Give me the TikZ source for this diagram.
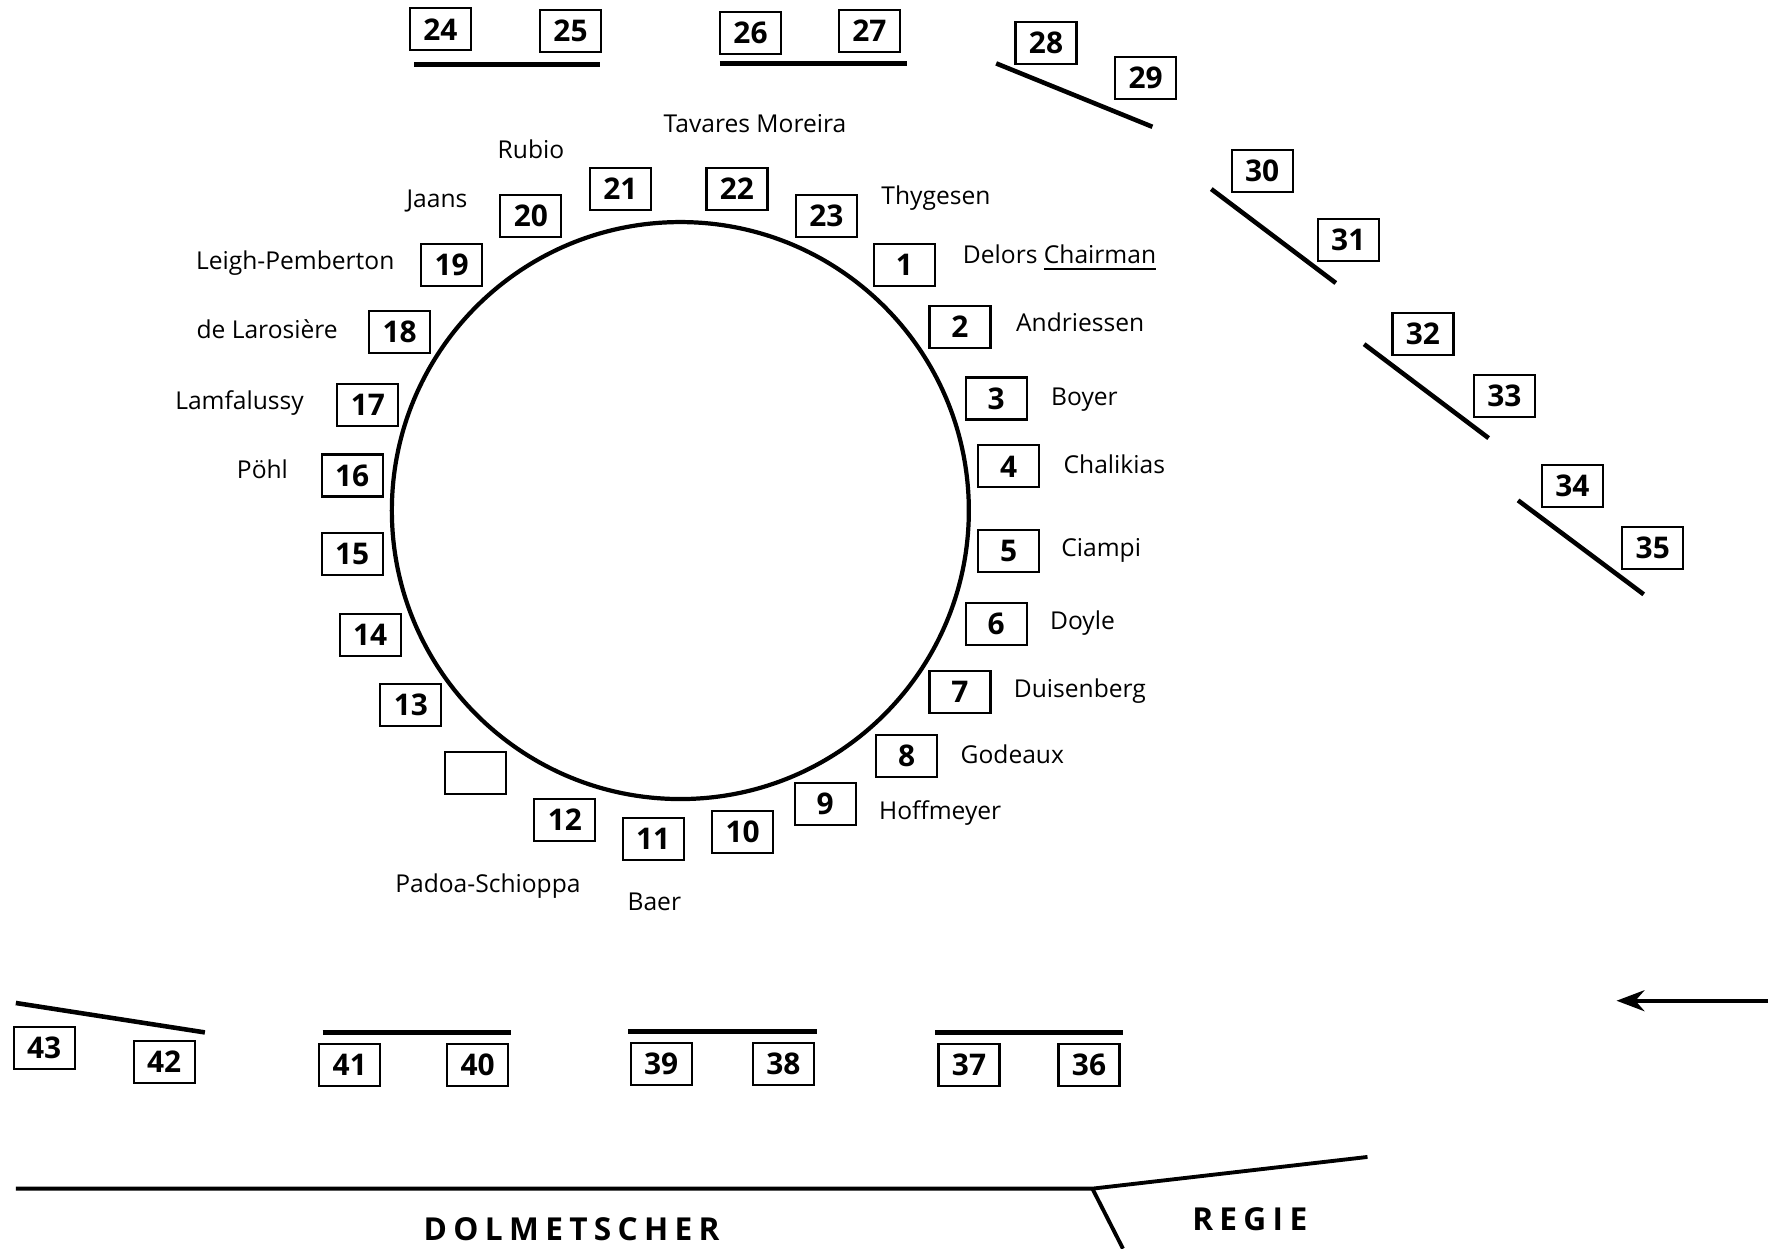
\documentclass[tikz,border=0pt]{standalone}
\usepackage{fontspec}
\setmainfont{Open Sans}
\usetikzlibrary{arrows.meta}

\tikzset{
  seat/.style={draw, line width=0.6pt, minimum width=6.1mm, minimum height=4.2mm,
    inner sep=0pt, font=\fontsize{8.5}{9}\selectfont\bfseries},
  member/.style={inner sep=0pt, font=\fontsize{7}{8}\selectfont},
  bench/.style={line width=1.3pt},
  wall/.style={line width=1.1pt},
  room/.style={inner sep=0pt, font=\fontsize{9}{9}\selectfont\bfseries\addfontfeatures{LetterSpace=20}},
}

\begin{document}
\begin{tikzpicture}[x=0.1132mm, y=-0.1132mm, >=Stealth]
  \useasboundingbox (0,0) rectangle (1568,1103);
  % the round table
  \node[draw, circle, line width=1.2pt, minimum size=57.7mm, inner sep=0pt] (table) at (601,451) {};

  % seats round the table
  \node[seat] (s1) at (799,234) {1};
  \node[seat] (s2) at (848,289) {2};
  \node[seat] (s3) at (880,352) {3};
  \node[seat] (s4) at (891,412) {4};
  \node[seat] (s5) at (891,487) {5};
  \node[seat] (s6) at (880,551) {6};
  \node[seat] (s7) at (848,611) {7};
  \node[seat] (s8) at (801,668) {8};
  \node[seat] (s9) at (729,710) {9};
  \node[seat] (s10) at (656,735) {10};
  \node[seat] (s11) at (577,741) {11};
  \node[seat] (s12) at (499,724) {12};
  \node[seat] (sx) at (420,683) {};
  \node[seat] (s13) at (363,623) {13};
  \node[seat] (s14) at (327,561) {14};
  \node[seat] (s15) at (311,489) {15};
  \node[seat] (s16) at (311,420) {16};
  \node[seat] (s17) at (325,358) {17};
  \node[seat] (s18) at (353,293) {18};
  \node[seat] (s19) at (399,234) {19};
  \node[seat] (s20) at (469,191) {20};
  \node[seat] (s21) at (548,167) {21};
  \node[seat] (s22) at (651,167) {22};
  \node[seat] (s23) at (730,191) {23};

  % names, right side
  \node[member, anchor=base west] (thygesen) at (778,181) {Thygesen};
  \node[member, anchor=base west] (delors) at (850,233) {Delors \underline{Chairman}};
  \node[member, anchor=base west] (andriessen) at (897,293) {Andriessen};
  \node[member, anchor=base west] (boyer) at (928,358) {Boyer};
  \node[member, anchor=base west] (chalikias) at (939,418) {Chalikias};
  \node[member, anchor=base west] (ciampi) at (937,492) {Ciampi};
  \node[member, anchor=base west] (doyle) at (927,556) {Doyle};
  \node[member, anchor=base west] (duisenberg) at (895,616) {Duisenberg};
  \node[member, anchor=base west] (godeaux) at (848,674) {Godeaux};
  \node[member, anchor=base west] (hoffmeyer) at (776,724) {Hoffmeyer};
  % names, bottom
  \node[member, anchor=base] (baer) at (578,804) {Baer};
  \node[member, anchor=base] (padoa) at (431,788) {Padoa-Schioppa};
  % names, left side
  \node[member, anchor=base east] (poehl) at (255,423) {Pöhl};
  \node[member, anchor=base east] (lamfalussy) at (269,362) {Lamfalussy};
  \node[member, anchor=base east] (larosiere) at (299,299) {de Larosière};
  \node[member, anchor=base east] (leigh) at (349,238) {Leigh-Pemberton};
  \node[member, anchor=base] (jaans) at (386,183) {Jaans};
  \node[member, anchor=base] (rubio) at (469,140) {Rubio};
  \node[member, anchor=base] (tavares) at (667,117) {Tavares Moreira};

  % top rows
  \node[seat] (s24) at (389,26) {24};
  \node[seat] (s25) at (504,27) {25};
  \draw[bench] (366,57) -- (530,57);
  \node[seat] (s26) at (663,29) {26};
  \node[seat] (s27) at (768,27) {27};
  \draw[bench] (636,56) -- (801,56);
  \node[seat] (s28) at (924,38) {28};
  \node[seat] (s29) at (1012,69) {29};
  \draw[bench] (880,56) -- (1018,112);
  % right rows
  \node[seat] (s30) at (1115,151) {30};
  \node[seat] (s31) at (1191,212) {31};
  \draw[bench] (1070,167) -- (1180,250);
  \node[seat] (s32) at (1257,295) {32};
  \node[seat] (s33) at (1329,350) {33};
  \draw[bench] (1205,304) -- (1315,387);
  \node[seat] (s34) at (1389,429) {34};
  \node[seat] (s35) at (1460,484) {35};
  \draw[bench] (1341,442) -- (1452,525);

  % bottom rows
  \draw[bench] (826,912) -- (992,912);
  \node[seat] (s36) at (962,941) {36};
  \node[seat] (s37) at (856,941) {37};
  \draw[bench] (555,911) -- (722,911);
  \node[seat] (s38) at (692,940) {38};
  \node[seat] (s39) at (584,940) {39};
  \draw[bench] (285,912) -- (451,912);
  \node[seat] (s40) at (422,941) {40};
  \node[seat] (s41) at (309,941) {41};
  \draw[bench] (14,886) -- (181,912);
  \node[seat] (s42) at (145,938) {42};
  \node[seat] (s43) at (39,926) {43};

  % entrance
  \coordinate (door) at (1562,884);
  \coordinate (in) at (1428,884);
  \draw[->, line width=1.1pt] (door) -- (in);

  % booths
  \draw[wall] (14,1050) -- (965,1050) -- (1208,1022);
  \draw[wall] (965,1050) -- (992,1103);
  \node[room] (dolm) at (505,1086) {DOLMETSCHER};
  \node[room] (regie) at (1104,1077) {REGIE};
\end{tikzpicture}
\end{document}
